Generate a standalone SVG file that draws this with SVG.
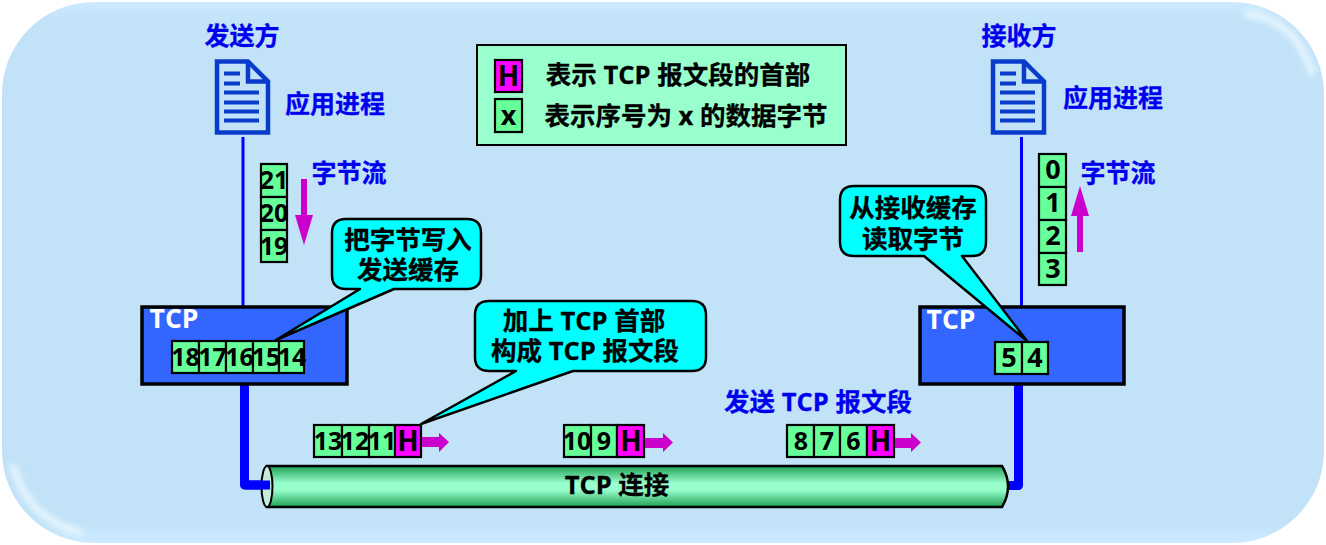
<svg xmlns="http://www.w3.org/2000/svg" width="1326" height="545" viewBox="0 0 1326 545">
<style>
text{font-family:"Open Sans","Noto Sans CJK SC",sans-serif;font-weight:700;text-anchor:middle}
.blue{fill:#0000f0;stroke:#0000f0;stroke-width:.3;font-size:25px}
.blk{fill:#000;stroke:#000;stroke-width:.3;font-size:25.500px}
.num{fill:#000;font-size:25px}
.big{fill:#000;font-size:27px}
.h{fill:#000;font-size:28px}
.cell{fill:#66ff99;stroke:#000;stroke-width:2.200}
.hd{fill:#ff00ff;stroke:#000;stroke-width:2.200}
.tcp{fill:#3366ff;stroke:#000;stroke-width:3.500}
.call{fill:#00ffff;stroke:#000;stroke-width:2.500;stroke-linejoin:round}
.tcpl{fill:#fff;font-size:26.500px}
.mag{fill:#cc00cc}
.doc{fill:none;stroke:#0a3ccc;stroke-width:4.500}
.ln{stroke:#0a3ccc;stroke-width:4}
</style>
<defs>
<linearGradient id="pipe" x1="0" y1="0" x2="0" y2="1">
<stop offset="0" stop-color="#1fa055"/><stop offset="0.42" stop-color="#99ffcc"/><stop offset="0.58" stop-color="#99ffcc"/><stop offset="1" stop-color="#1fa055"/>
</linearGradient>
<linearGradient id="bgE" x1="0" y1="0" x2="0" y2="1">
<stop offset="0" stop-color="#cdeaff"/><stop offset="0.035" stop-color="#c2e2f8"/><stop offset="0.96" stop-color="#c2e2f8"/><stop offset="1" stop-color="#cdeaff"/>
</linearGradient>
<filter id="soft" x="-20%" y="-20%" width="140%" height="140%"><feGaussianBlur stdDeviation="3"/></filter>
<clipPath id="bgc"><rect x="2" y="2" width="1322" height="541" rx="92" ry="92"/></clipPath>
<g id="docicon">
<path class="doc" d="M0 0H31L51 20V71H0Z"/>
<path class="doc" d="M31 0V20H51" stroke-width="4"/>
<path class="ln" d="M7 12H23M7 22H23M7 31H42M7 41H42M7 50H42M7 59H42"/>
</g>
</defs>
<g id="background">
<rect x="2" y="2" width="1322" height="541" rx="92" ry="92" fill="url(#bgE)"/>
<g clip-path="url(#bgc)" fill="none" stroke="#ecfaff" stroke-width="6" filter="url(#soft)">
<path d="M1245 14Q1296 18 1313 75"/>
<path d="M13 465Q28 520 82 533"/>
</g>
</g>

<g id="connectors">
<path d="M243 137V306" stroke="#0000ff" stroke-width="3" fill="none"/>
<path d="M1021.500 137V306" stroke="#0000ff" stroke-width="3" fill="none"/>
<path d="M244.500 385V485H270" stroke="#0000ff" stroke-width="9" fill="none" stroke-linejoin="round"/>
<path d="M1018.500 385V485.500H1008" stroke="#0000ff" stroke-width="9" fill="none" stroke-linejoin="round"/>
</g>

<g id="sender">
<text class="blue" x="242" y="45">发送方</text>
<use href="#docicon" x="217" y="61.500"/>
<text class="blue" x="335" y="113">应用进程</text>
</g>
<g id="receiver">
<text class="blue" x="1019" y="45">接收方</text>
<use href="#docicon" x="993" y="61.500"/>
<text class="blue" x="1113" y="107">应用进程</text>
</g>

<g id="legend">
<rect x="477" y="45" width="369" height="100" fill="#99ffcc" stroke="#000" stroke-width="2"/>
<rect class="hd" x="495" y="60" width="27" height="32"/>
<text class="h" x="508.500" y="86">H</text>
<rect class="cell" x="495" y="99" width="27" height="33"/>
<text class="big" x="508.500" y="125">x</text>
<text class="blk" x="678" y="84">表示 TCP 报文段的首部</text>
<text class="blk" x="686" y="125">表示序号为 x 的数据字节</text>
</g>

<g id="stream-left">
<rect class="cell" x="261" y="164" width="26" height="33"/><text class="num" x="274" y="189">21</text>
<rect class="cell" x="261" y="197" width="26" height="33"/><text class="num" x="274" y="222">20</text>
<rect class="cell" x="261" y="230" width="26" height="32"/><text class="num" x="274" y="255">19</text>
<text class="blue" x="349" y="182">字节流</text>
<path class="mag" d="M301 179H307V215H313L304 245L295 215H301Z"/>
</g>
<g id="stream-right">
<rect class="cell" x="1039" y="154" width="27" height="33"/><text class="big" x="1053" y="179">0</text>
<rect class="cell" x="1039" y="187" width="27" height="33"/><text class="big" x="1053" y="212">1</text>
<rect class="cell" x="1039" y="220" width="27" height="33"/><text class="big" x="1053" y="245">2</text>
<rect class="cell" x="1039" y="253" width="27" height="32"/><text class="big" x="1053" y="278">3</text>
<text class="blue" x="1118" y="182">字节流</text>
<path class="mag" d="M1077 252H1083V216H1089L1080 186L1071 216H1077Z"/>
</g>

<g id="tcp-left">
<rect class="tcp" x="142" y="307" width="205" height="77"/>
<text class="tcpl" x="174" y="328">TCP</text>
<rect class="cell" x="172" y="341" width="27" height="32"/><text class="num" x="185.500" y="366">18</text>
<rect class="cell" x="199" y="341" width="27" height="32"/><text class="num" x="212.500" y="366">17</text>
<rect class="cell" x="226" y="341" width="27" height="32"/><text class="num" x="239.500" y="366">16</text>
<rect class="cell" x="253" y="341" width="26" height="32"/><text class="num" x="266" y="366">15</text>
<rect class="cell" x="279" y="341" width="25" height="32"/><text class="num" x="292" y="366">14</text>
</g>
<g id="tcp-right">
<rect class="tcp" x="920" y="307" width="204" height="77"/>
<text class="tcpl" x="951" y="329">TCP</text>
<rect class="cell" x="995" y="342" width="27" height="32"/><text class="big" x="1009" y="367">5</text>
<rect class="cell" x="1022" y="342" width="26" height="32"/><text class="big" x="1035" y="367">4</text>
</g>

<g id="callout-write">
<path class="call" d="M276 340L360 289H346Q332 289 332 275V233Q332 219 346 219H467Q481 219 481 233V275Q481 289 467 289H394Z"/>
<text class="blk" x="408" y="249">把字节写入</text>
<text class="blk" x="408" y="279">发送缓存</text>
</g>
<g id="callout-read">
<path class="call" d="M1027 341L924 256H854Q840 256 840 242V200Q840 186 854 186H972Q986 186 986 200V242Q986 256 972 256H962Z"/>
<text class="blk" x="913" y="217">从接收缓存</text>
<text class="blk" x="913" y="248">读取字节</text>
</g>
<g id="callout-header">
<path class="call" d="M421 424L516 371H489Q475 371 475 357V315Q475 301 489 301H692Q706 301 706 315V357Q706 371 692 371H573Z"/>
<text class="blk" x="584" y="330">加上 TCP 首部</text>
<text class="blk" x="585" y="360">构成 TCP 报文段</text>
</g>

<text class="blue" x="818" y="411" id="send-label" style="font-size:25.500px">发送 TCP 报文段</text>

<g id="segment-1">
<rect class="cell" x="314" y="425" width="28" height="32"/><text class="num" x="328" y="450">13</text>
<rect class="cell" x="342" y="425" width="27" height="32"/><text class="num" x="355" y="450">12</text>
<rect class="cell" x="369" y="425" width="26" height="32"/><text class="num" x="382" y="450">11</text>
<rect class="hd" x="395" y="425" width="26" height="32"/><text class="h" x="408" y="451">H</text>
<path class="mag" d="M422 437H439V433L449 442L439 452V447H422Z"/>
</g>
<g id="segment-2">
<rect class="cell" x="564" y="425" width="27" height="32"/><text class="num" x="577" y="450">10</text>
<rect class="cell" x="591" y="425" width="26" height="32"/><text class="num" x="604" y="450">9</text>
<rect class="hd" x="617" y="425" width="27" height="32"/><text class="h" x="631" y="451">H</text>
<path class="mag" d="M645 438H663V433L673 442.500L663 452V448H645Z"/>
</g>
<g id="segment-3">
<rect class="cell" x="787" y="425" width="27" height="32"/><text class="num" x="801" y="450">8</text>
<rect class="cell" x="814" y="425" width="26" height="32"/><text class="num" x="827" y="450">7</text>
<rect class="cell" x="840" y="425" width="27" height="32"/><text class="num" x="853.500" y="450">6</text>
<rect class="hd" x="867" y="425" width="27" height="32"/><text class="h" x="880.500" y="451">H</text>
<path class="mag" d="M895 438H911V433L921 442.500L911 452V448H895Z"/>
</g>

<g id="tcp-connection">
<path d="M267 466H1002Q1008 476 1008 486.500Q1008 497 1002 507H267Z" fill="url(#pipe)" stroke="#000" stroke-width="2.500"/>
<ellipse cx="267" cy="486.500" rx="5.500" ry="20.500" fill="#c4ecd8" stroke="#000" stroke-width="2"/>
<path d="M245 485H270" stroke="#0000ff" stroke-width="9"/>
<text class="blk" x="617" y="494">TCP 连接</text>
</g>
</svg>
